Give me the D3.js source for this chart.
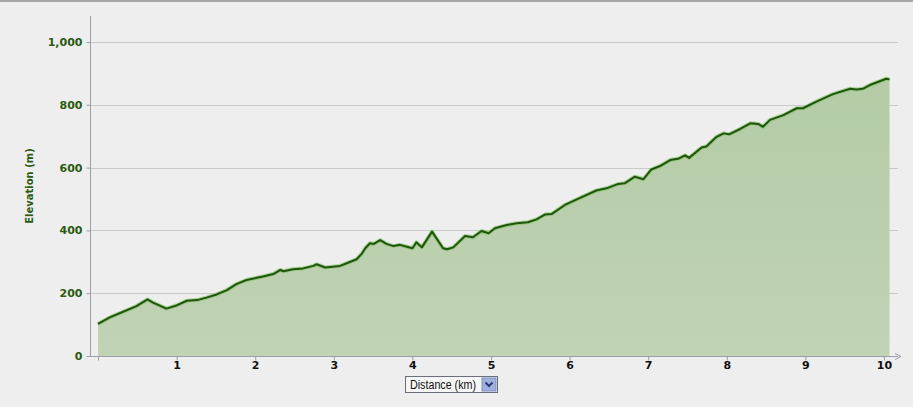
<!DOCTYPE html>
<html><head><meta charset="utf-8">
<script src="https://cdn.jsdelivr.net/npm/d3@7"></script>
<style>
html,body{margin:0;padding:0;background:#eeeeee;}
svg{display:block;}
</style></head>
<body>
<svg id="c" width="913" height="407"></svg>
<script>
const distanceKm = [0,0.15,0.32,0.49,0.63,0.70,0.87,1.0,1.13,1.26,1.38,1.51,1.64,1.76,1.89,2.02,2.10,2.23,2.32,2.36,2.48,2.61,2.74,2.78,2.89,3.08,3.18,3.29,3.36,3.40,3.46,3.51,3.59,3.67,3.76,3.84,3.93,4.0,4.05,4.12,4.25,4.39,4.44,4.52,4.67,4.77,4.88,4.97,5.05,5.20,5.33,5.47,5.58,5.69,5.77,5.94,6.12,6.34,6.47,6.62,6.70,6.83,6.94,7.04,7.15,7.28,7.38,7.47,7.52,7.68,7.74,7.87,7.96,8.03,8.17,8.30,8.40,8.46,8.55,8.72,8.89,8.97,9.14,9.35,9.57,9.65,9.73,9.82,10.03,10.07];
const elevationM = [102,123,141,159,180,170,151,161,176,178,186,196,210,229,242,249,253,261,274,270,276,279,287,292,282,287,297,308,327,343,359,357,369,357,350,354,348,343,362,346,396,343,340,346,382,378,398,391,407,417,423,426,435,451,452,481,502,527,534,548,550,571,563,594,605,624,628,639,631,664,667,698,709,706,723,741,739,730,752,767,789,789,810,834,851,849,851,863,883,881];
const yTicks = [0,200,400,600,800,1000];
const xTicks = [1,2,3,4,5,6,7,8,9,10];
const xTitle = "Distance (km)";
const yTitle = "Elevation (m)";

const data = distanceKm.map((d,i)=>({x:d,y:elevationM[i]}));
const svg = d3.select("#c");

svg.append("rect").attr("x",0).attr("y",0).attr("width",913).attr("height",2).attr("fill","#a8a8a8");

const x = d3.scaleLinear().domain([0,10]).range([98,884]);
const y = d3.scaleLinear().domain([0,1000]).range([356,42]);
const plotLeft = 90, plotRight = 898, plotTop = 16;

const defs = svg.append("defs");
const grad = defs.append("linearGradient").attr("id","fillg").attr("x1",0).attr("y1",0).attr("x2",0).attr("y2",1);
grad.append("stop").attr("offset","0%").attr("stop-color","#b4cba6");
grad.append("stop").attr("offset","100%").attr("stop-color","#c0d3b5");

svg.append("g").selectAll("line").data(yTicks.filter(t=>t>0)).join("line")
  .attr("x1",plotLeft).attr("x2",plotRight)
  .attr("y1",d=>Math.round(y(d))+0.5).attr("y2",d=>Math.round(y(d))+0.5)
  .attr("stroke","#c9c9c9").attr("stroke-width",1);

const area = d3.area().x(d=>x(d.x)).y0(y(0)).y1(d=>y(d.y));
svg.append("path").datum(data).attr("d",area).attr("fill","url(#fillg)");

const line = d3.line().x(d=>x(d.x)).y(d=>y(d.y));
svg.append("path").datum(data).attr("d",line).attr("fill","none")
  .attr("stroke","#8cc36c").attr("stroke-width",4).attr("stroke-linejoin","round").attr("opacity",0.7);
svg.append("path").datum(data).attr("d",line).attr("fill","none")
  .attr("stroke","#1d560c").attr("stroke-width",2).attr("stroke-linejoin","round");

const yAxis = d3.axisLeft(y).tickValues(yTicks).tickSize(4).tickFormat(d3.format(","));
const ga = svg.append("g").attr("transform",`translate(${plotLeft+0.5},0)`).call(yAxis);
ga.select(".domain").attr("d",`M0,${plotTop}V${y(0)}`).attr("stroke","#9aa0a8");
ga.selectAll(".tick line").attr("stroke","#9aa0a8");
ga.selectAll(".tick text").attr("x",-8).attr("fill","#2a5b10")
  .style("font-family","'DejaVu Sans',Verdana,sans-serif").style("font-size","11px").style("font-weight","bold");

const xAxis = d3.axisBottom(x).tickValues([0].concat(xTicks)).tickSize(4).tickFormat(d=>d===0?"":d);
const gx = svg.append("g").attr("transform",`translate(0,${Math.round(y(0))+0.5})`).call(xAxis);
gx.select(".domain").attr("d",`M${plotLeft},0H${plotRight}`).attr("stroke","#9aa0a8");
gx.selectAll(".tick line").attr("stroke","#9aa0a8");
gx.selectAll(".tick text").attr("y",5).attr("fill","#111")
  .style("font-family","'DejaVu Sans',Verdana,sans-serif").style("font-size","11px").style("font-weight","bold");
gx.append("path").attr("d",`M${plotRight-3},-3L${plotRight+3},0L${plotRight-3},3`).attr("fill","none").attr("stroke","#9aa0a8");

svg.append("text").attr("transform","translate(33,186) rotate(-90)").attr("text-anchor","middle")
  .attr("fill","#2a5b10").style("font-family","'DejaVu Sans',Verdana,sans-serif")
  .style("font-size","10px").style("font-weight","bold").text(yTitle);

const dd = svg.append("g").attr("transform","translate(405,376)");
dd.append("rect").attr("x",0.5).attr("y",0.5).attr("width",92).attr("height",16).attr("fill","#f6f6f6").attr("stroke","#6a6f78");
dd.append("text").attr("x",5).attr("y",12.5).attr("fill","#111")
  .attr("textLength",66).attr("lengthAdjust","spacingAndGlyphs")
  .style("font-family","'Liberation Sans',Arial,sans-serif").style("font-size","12px").text(xTitle);
dd.append("rect").attr("x",77).attr("y",2).attr("width",14).attr("height",13).attr("fill","#9fb0dc").attr("stroke","#7f8fc4");
dd.append("path").attr("d","M80.5,6.5L84,10L87.5,6.5").attr("fill","none").attr("stroke","#2a3a7a").attr("stroke-width",2);
</script>
</body></html>
